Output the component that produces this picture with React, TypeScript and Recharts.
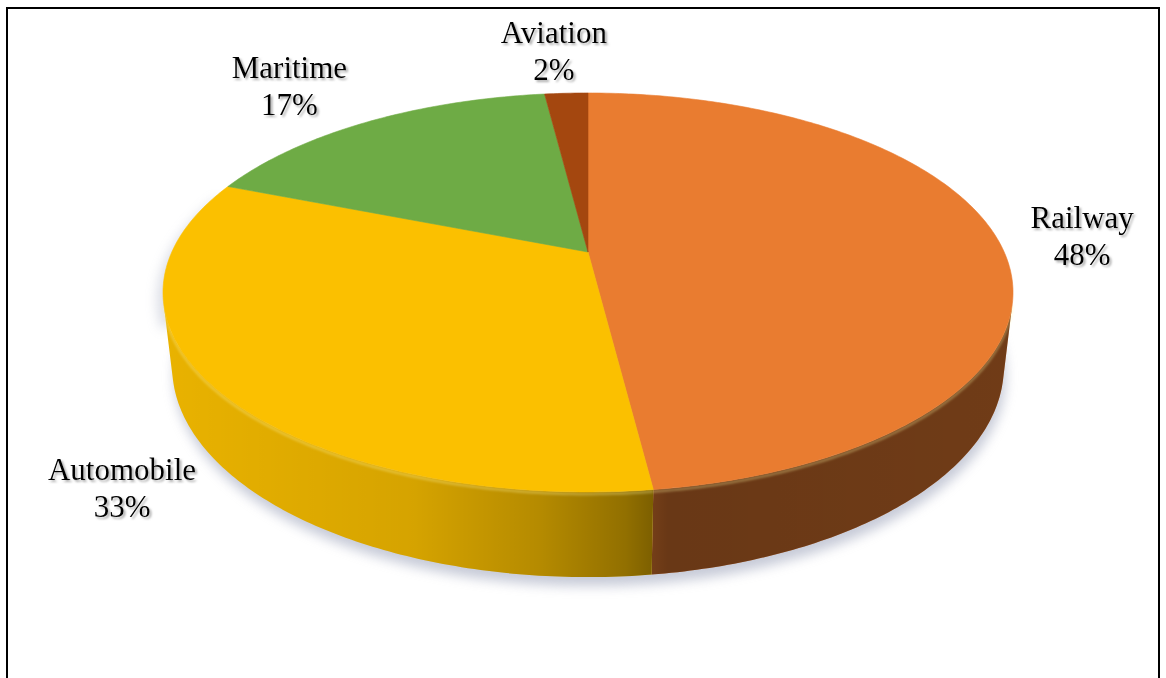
import React from 'react';
import { PieChart, Pie, Cell } from 'recharts';

// ---- data ----
const categories = ['Railway', 'Automobile', 'Maritime', 'Aviation'];
const shares = [48, 33, 17, 2];
const colors = ['#E97C30', '#FBC000', '#6EAB45', '#A4470F'];

const data = categories.map((name, i) => ({ name, value: shares[i] }));

// ---- layout / 3D projection constants ----
const W = 1166;
const H = 678;
const CX = 583;
const CY = 247;
const RADIUS = 425;
const TILT_C = 0.4596;
const TILT_S = 0.8882;
const DIST = 4.379;
const DEPTH = 0.2023;
const FOCAL_K = Math.sqrt(DIST * DIST - TILT_S * TILT_S);
const LABEL_GAP = 32;
const FONT_SIZE = 31;
const LINE_H = 37;
const PLOT_TOP = 19;

function project(cx: number, cy: number, r: number, u: number, v: number, d: number): [number, number] {
  const F = r * FOCAL_K;
  const X = u;
  const Y = v * TILT_C - d * TILT_S;
  const Z = DIST + v * TILT_S + d * TILT_C;
  return [cx + (F * X) / Z, cy - (F * Y) / Z];
}

function arcPoints(cx: number, cy: number, r: number, a1: number, a2: number, d: number) {
  const pts: [number, number][] = [];
  const n = Math.max(2, Math.ceil(Math.abs(a2 - a1) / 0.75));
  for (let i = 0; i <= n; i++) {
    const a = ((a1 + ((a2 - a1) * i) / n) * Math.PI) / 180;
    pts.push(project(cx, cy, r, Math.cos(a), Math.sin(a), d));
  }
  return pts;
}

const toPath = (pts: [number, number][]) =>
  pts.map((p, i) => `${i ? 'L' : 'M'}${p[0].toFixed(2)},${p[1].toFixed(2)}`).join(' ') + ' Z';

const VIS_A = (Math.asin(1 / (DIST * TILT_S)) * 180) / Math.PI;

function renderSector(props: any) {
  const { cx, cy, outerRadius, startAngle, endAngle, fill } = props;
  const lo = Math.min(startAngle, endAngle);
  const hi = Math.max(startAngle, endAngle);
  const parts: React.ReactNode[] = [];

  // soft shadow under the whole pie (drawn once, with first sector)
  if (hi === 90) {
    const bottom = arcPoints(cx, cy, outerRadius, 0, 360, DEPTH).map(
      (p) => [p[0] + 2, p[1] + 9] as [number, number]
    );
    const left = arcPoints(cx, cy, outerRadius, 160, 200, 0).map(
      (p) => [p[0] - 6, p[1] + 8] as [number, number]
    );
    parts.push(
      <path key="sh" d={toPath(bottom)} fill="#9aa0b8" opacity={0.55} filter="url(#pieShadow)" />
    );
    parts.push(
      <path key="sh2" d={toPath([...left, ...bottom.slice(180, 200)])} fill="#9aa0b8" opacity={0.35} filter="url(#pieShadow)" />
    );
  }

  // visible side walls
  const vis0 = 180 + VIS_A;
  const vis1 = 360 - VIS_A;
  for (let k = -2; k <= 2; k++) {
    const a1 = Math.max(lo, vis0 + 360 * k);
    const a2 = Math.min(hi, vis1 + 360 * k);
    if (a2 > a1) {
      const top = arcPoints(cx, cy, outerRadius, a1, a2, 0);
      const bot = arcPoints(cx, cy, outerRadius, a2, a1, DEPTH);
      const d = toPath([...top, ...bot]);
      parts.push(<path key={`w${k}`} d={d} fill={fill} />);
      parts.push(<path key={`ws${k}`} d={d} fill="url(#wallShade)" />);
      const rim = top.map((p, i) => `${i ? 'L' : 'M'}${p[0].toFixed(2)},${(p[1] + 2).toFixed(2)}`).join(' ');
      parts.push(
        <path key={`wr${k}`} d={rim} fill="none" stroke="#fff6a0" strokeOpacity={0.3} strokeWidth={3} filter="url(#rimBlur)" />
      );
    }
  }

  // top face
  const topPts: [number, number][] = [[cx, cy], ...arcPoints(cx, cy, outerRadius, lo, hi, 0)];
  parts.push(<path key="top" d={toPath(topPts)} fill={fill} stroke={fill} strokeWidth={0.6} />);

  return <g>{parts}</g>;
}

function renderLabel(p: any) {
  const { cx, cy, midAngle, outerRadius, name, percent } = p;
  const rad = (midAngle * Math.PI) / 180;
  const cosA = Math.cos(rad);
  const sinA = Math.sin(rad);
  const d = sinA < 0 ? DEPTH : 0;
  const [lx, ly] = project(cx, cy, outerRadius, cosA, sinA, d);
  const [ox, oy] = project(cx, cy, outerRadius, 0, 0, d);
  let dx = lx - ox;
  let dy = ly - oy;
  const n = Math.hypot(dx, dy) || 1;
  dx /= n;
  dy /= n;
  const w = String(name).length * 0.48 * FONT_SIZE;
  const bh = LINE_H + FONT_SIZE;
  const x = lx + dx * LABEL_GAP + (dx * w) / 2;
  let yc = ly + dy * LABEL_GAP + (dy * bh) / 2;
  if (yc - bh / 2 < PLOT_TOP) yc = PLOT_TOP + bh / 2;
  const b1 = yc - bh / 2 + 24;
  const pct = `${Math.round(percent * 100)}%`;
  return (
    <text
      x={x}
      y={b1}
      textAnchor="middle"
      fontFamily="'Liberation Serif', 'Times New Roman', serif"
      fontSize={FONT_SIZE}
      fill="#000"
      filter="url(#textShadow)"
    >
      <tspan x={x} y={b1}>{name}</tspan>
      <tspan x={x} y={b1 + LINE_H}>{pct}</tspan>
    </text>
  );
}

export default function App() {
  return (
    <div style={{ position: 'absolute', left: 0, top: 0, width: W, height: H, overflow: 'hidden', background: '#fff' }}>
      <svg width={0} height={0} style={{ position: 'absolute' }}>
        <defs>
          <linearGradient id="wallShade" gradientUnits="userSpaceOnUse" x1={CX - RADIUS} y1={0} x2={CX + RADIUS} y2={0}>
            <stop offset="0" stopColor="#000" stopOpacity={0.07} />
            <stop offset="0.3" stopColor="#000" stopOpacity={0.15} />
            <stop offset="0.45" stopColor="#000" stopOpacity={0.28} />
            <stop offset="0.55" stopColor="#000" stopOpacity={0.42} />
            <stop offset="0.6" stopColor="#000" stopOpacity={0.55} />
            <stop offset="1" stopColor="#000" stopOpacity={0.52} />
          </linearGradient>
          <filter id="pieShadow" x="-20%" y="-20%" width="140%" height="140%">
            <feGaussianBlur stdDeviation="6" />
          </filter>
          <filter id="rimBlur" x="-5%" y="-20%" width="110%" height="140%">
            <feGaussianBlur stdDeviation="1" />
          </filter>
          <filter id="textShadow" x="-10%" y="-20%" width="120%" height="140%">
            <feDropShadow dx="2" dy="2" stdDeviation="1.2" floodColor="#777" floodOpacity="0.6" />
          </filter>
        </defs>
      </svg>
      <div
        style={{
          position: 'absolute',
          left: 6,
          top: 7,
          width: 1154,
          height: 700,
          border: '2px solid #000',
          boxSizing: 'border-box',
        }}
      />
      <div style={{ position: 'absolute', left: 0, top: 0 }}>
        <PieChart width={W} height={H}>
          <Pie
            data={data}
            dataKey="value"
            nameKey="name"
            cx={CX}
            cy={CY}
            outerRadius={RADIUS}
            startAngle={90}
            endAngle={-270}
            stroke="none"
            isAnimationActive={false}
            shape={renderSector}
            label={renderLabel}
            labelLine={false}
          >
            {data.map((d, i) => (
              <Cell key={d.name} fill={colors[i]} />
            ))}
          </Pie>
        </PieChart>
      </div>
    </div>
  );
}
